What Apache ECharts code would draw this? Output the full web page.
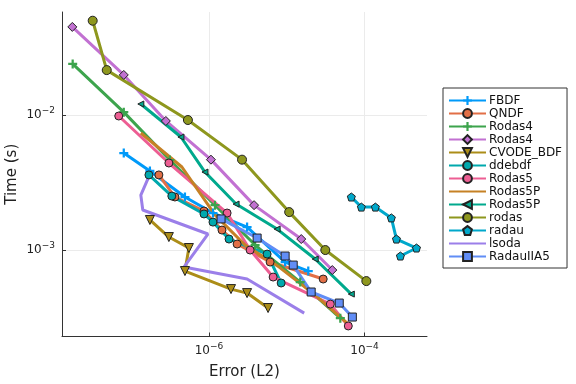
<!DOCTYPE html>
<html><head><meta charset="utf-8">
<script src="https://cdn.jsdelivr.net/npm/echarts@6/dist/echarts.min.js"></script>
<style>html,body{margin:0;padding:0;background:#fff}#c{width:576px;height:384px}</style>
</head><body><div id="c"></div>
<script>
// ---- data (error L2, time s) ----
const seriesNames = ['FBDF','QNDF','Rodas4','Rodas4\u200B','CVODE_BDF','ddebdf','Rodas5','Rodas5P','Rodas5P\u200B','rodas','radau','lsoda','RadauIIA5'];

const fbdfErr = [8.03e-8,1.74e-7,4.91e-7,1.126e-6,3.09e-6,9.53e-6,1.89e-5];
const fbdfTime = [5.23e-3,3.85e-3,2.47e-3,1.88e-3,1.48e-3,8.15e-4,6.99e-4];

const qndfErr = [2.27e-7,3.65e-7,8.63e-7,1.47e-6,2.30e-6,6.11e-6,2.94e-5];
const qndfTime = [3.60e-3,2.47e-3,1.945e-3,1.406e-3,1.108e-3,8.15e-4,6.10e-4];

const rodas4Err = [1.77e-8,8.03e-8,3.14e-7,1.195e-6,3.92e-6,1.49e-5,4.88e-5];
const rodas4Time = [2.39e-2,1.05e-2,4.64e-3,2.15e-3,1.089e-3,5.79e-4,3.13e-4];

const rodas4bErr = [1.75e-8,8.03e-8,2.79e-7,1.06e-6,3.80e-6,1.535e-5,3.85e-5];
const rodas4bTime = [4.49e-2,1.98e-2,9.03e-3,4.67e-3,2.15e-3,1.206e-3,7.11e-4];

const cvodeErr = [1.74e-7,3.05e-7,5.52e-7,4.91e-7,1.92e-6,3.09e-6,5.75e-6];
const cvodeTime = [1.67e-3,1.248e-3,1.035e-3,6.99e-4,5.14e-4,4.80e-4,3.72e-4];

const ddebdfErr = [1.69e-7,3.33e-7,8.63e-7,1.126e-6,1.81e-6,5.59e-6,8.47e-6];
const ddebdfTime = [3.60e-3,2.51e-3,1.85e-3,1.61e-3,1.206e-3,9.34e-4,5.70e-4];

const rodas5Err = [6.92e-8,3.05e-7,1.71e-6,3.38e-6,6.68e-6,3.63e-5,6.18e-5];
const rodas5Time = [9.83e-3,4.41e-3,1.88e-3,1.0e-3,6.31e-4,3.98e-4,2.74e-4];

const rodas5pErr = [1.33e-7,4.49e-7,1.195e-6,2.91e-6,7.98e-6,2.32e-5,6.56e-5];
const rodas5pTime = [7.36e-3,4.12e-3,1.82e-3,1.089e-3,7.48e-4,4.64e-4,2.74e-4];

const rodas5pbErr = [1.33e-7,4.36e-7,8.88e-7,2.23e-6,7.52e-6,2.32e-5,6.76e-5];
const rodas5pbTime = [1.206e-2,6.87e-3,3.78e-3,2.19e-3,1.43e-3,8.58e-4,4.72e-4];

const rodasErr = [3.2e-8,4.85e-8,5.36e-7,2.66e-6,1.074e-5,3.13e-5,1.054e-4];
const rodasTime = [4.99e-2,2.15e-2,9.18e-3,4.67e-3,1.91e-3,1.0e-3,5.89e-4];

const radauErr = [6.76e-5,9.10e-5,1.377e-4,2.21e-4,2.57e-4,4.65e-4,2.89e-4];
const radauTime = [2.47e-3,2.08e-3,2.08e-3,1.73e-3,1.206e-3,1.035e-3,9.03e-4];

const lsodaErr = [1.84e-7,1.33e-7,1.41e-7,9.7e-7,4.76e-7,3.09e-6,1.675e-5];
const lsodaTime = [3.92e-3,2.55e-3,1.98e-3,1.314e-3,7.48e-4,6.10e-4,3.41e-4];

const radauiiaErr = [1.43e-6,4.16e-6,9.53e-6,1.21e-5,2.06e-5,4.73e-5,6.97e-5];
const radauiiaTime = [1.70e-3,1.227e-3,9.03e-4,7.74e-4,4.89e-4,4.05e-4,3.19e-4];

const xTicks = [1e-6, 1e-4];
const yTicks = [1e-3, 1e-2];

// ---- styles ----
const SYM = {
  plus: 'path://M-1,-4H1V-1H4V1H1V4H-1V1H-4V-1H-1Z',
  pent: 'path://M0,-1L0.951,-0.309L0.588,0.809L-0.588,0.809L-0.951,-0.309Z',
  ltri: 'path://M-1,0L1,-1L1,1Z',
  dtri: 'path://M-1,-1L1,-1L0,1Z'
};
const styles = [
  {c:'#009af9', s:SYM.plus, z:9, stroke:false},
  {c:'#e26f46', s:'circle', z:8},
  {c:'#3da44d', s:SYM.plus, z:9, stroke:false},
  {c:'#c271d2', s:'diamond', z:9},
  {c:'#ac8d18', s:SYM.dtri, z:9},
  {c:'#00a9ad', s:'circle', z:8},
  {c:'#ed5e93', s:'circle', z:8},
  {c:'#c68125', s:'circle', z:8, hide:true},
  {c:'#00a98d', s:SYM.ltri, z:6},
  {c:'#8e971e', s:'circle', z:9},
  {c:'#00a8cb', s:SYM.pent, z:8},
  {c:'#9b7fe9', s:'circle', z:8, hide:true},
  {c:'#618df6', s:'rect', z:8}
];
const errs = [fbdfErr,qndfErr,rodas4Err,rodas4bErr,cvodeErr,ddebdfErr,rodas5Err,rodas5pErr,rodas5pbErr,rodasErr,radauErr,lsodaErr,radauiiaErr];
const times = [fbdfTime,qndfTime,rodas4Time,rodas4bTime,cvodeTime,ddebdfTime,rodas5Time,rodas5pTime,rodas5pbTime,rodasTime,radauTime,lsodaTime,radauiiaTime];

const series = seriesNames.map((n,i)=>({
  name:n, type:'line',
  data: errs[i].map((e,k)=>[e, times[i][k]]),
  symbol: styles[i].s, symbolSize: styles[i].z, showSymbol: !styles[i].hide,
  lineStyle:{color:styles[i].c, width:3},
  itemStyle:{color:styles[i].c, borderColor: styles[i].stroke===false ? styles[i].c : '#222', borderWidth: styles[i].stroke===false ? 0 : 1},
  emphasis:{disabled:true}, animation:false
}));

const legendData = seriesNames.map((n,i)=> styles[i].hide ? {name:n, itemStyle:{opacity:0}} : {name:n});

function expLabel(v){
  const e = Math.round(Math.log10(v));
  return '{b|10}{s|' + (e<0 ? '\u2212' + (-e) : e) + '}';
}
const rich = {
  b:{fontSize:12, color:'#222', fontFamily:'DejaVu Sans'},
  s:{fontSize:9, color:'#222', fontFamily:'DejaVu Sans', padding:[0,0,8,0]}
};

const chart = echarts.init(document.getElementById('c'), null, {renderer:'canvas'});
chart.setOption({
  animation:false,
  backgroundColor:'#fff',
  grid:{left:62, right:149, top:12, bottom:47.5, containLabel:false, outerBoundsMode:'none'},
  xAxis:{
    type:'log', min:1.29e-8, max:6.35e-4,
    name:'Error (L2)', nameLocation:'middle', nameGap:28, nameMoveOverlap:false,
    nameTextStyle:{fontSize:15, color:'#222', fontFamily:'DejaVu Sans'},
    axisLine:{show:true, onZero:false, lineStyle:{color:'#333', width:1}},
    axisTick:{show:true, inside:true, length:4, customValues:xTicks, lineStyle:{color:'#333'}},
    axisLabel:{customValues:xTicks, formatter:expLabel, rich:rich, margin:6},
    splitLine:{show:true, lineStyle:{color:'#ebebeb', width:1}},
    minorTick:{show:false}, minorSplitLine:{show:false}
  },
  yAxis:{
    type:'log', min:2.29e-4, max:5.79e-2,
    name:'Time (s)', nameLocation:'middle', nameGap:42, nameRotate:90, nameMoveOverlap:false,
    nameTextStyle:{fontSize:15, color:'#222', fontFamily:'DejaVu Sans'},
    axisLine:{show:true, onZero:false, lineStyle:{color:'#333', width:1}},
    axisTick:{show:true, inside:true, length:4, customValues:yTicks, lineStyle:{color:'#333'}},
    axisLabel:{customValues:yTicks, formatter:expLabel, rich:rich, margin:7},
    splitLine:{show:true, lineStyle:{color:'#ebebeb', width:1}},
    minorTick:{show:false}, minorSplitLine:{show:false}
  },
  legend:{
    orient:'vertical', left:443, top:88,
    padding:[6,5,5,5], itemGap:0, itemWidth:37, itemHeight:11,
    borderColor:'#333', borderWidth:1, borderRadius:0, backgroundColor:'#fff',
    textStyle:{fontSize:12, lineHeight:13, color:'#111', fontFamily:'DejaVu Sans', padding:[0,0,0,-2]},
    data: legendData,
    selectedMode:false
  },
  series: series
});
</script>
</body></html>
